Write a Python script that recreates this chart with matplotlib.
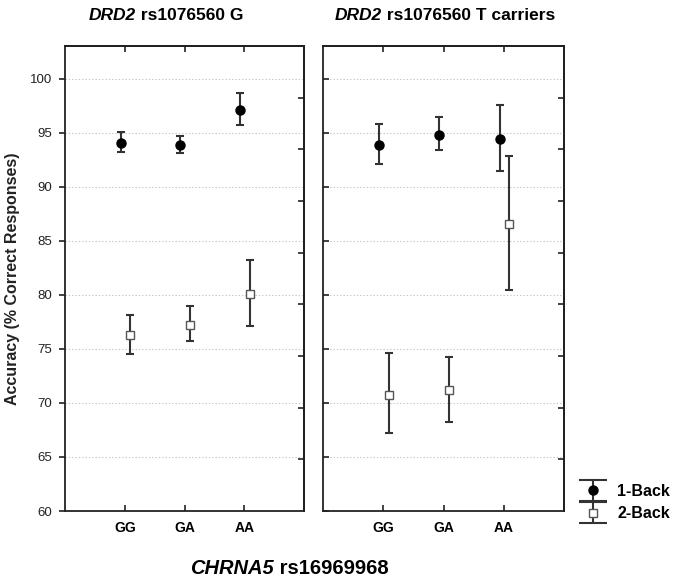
import matplotlib
matplotlib.use("Agg")
import matplotlib.pyplot as plt
from matplotlib.lines import Line2D
from matplotlib.collections import LineCollection
from matplotlib.container import ErrorbarContainer
from matplotlib.legend_handler import HandlerErrorbar

plt.rcParams['font.family'] = ['Liberation Sans', 'DejaVu Sans']

genotypes = ['GG', 'GA', 'AA']
panel_names = ['rs1076560 G', 'rs1076560 T carriers']

# left panel (G), right panel (T carriers)
one_back_mean = [[94.04, 93.86, 97.13], [93.86, 94.84, 94.44]]
one_back_hi = [[95.06, 94.72, 98.73], [95.80, 96.45, 97.60]]
one_back_lo = [[93.27, 93.12, 95.71], [92.10, 93.45, 91.50]]

two_back_mean = [[76.27, 77.20, 80.10], [70.77, 71.18, 86.57]]
two_back_hi = [[78.10, 79.00, 83.20], [74.60, 74.30, 92.87]]
two_back_lo = [[74.56, 75.70, 77.10], [67.20, 68.20, 80.44]]

y_ticks = [60, 65, 70, 75, 80, 85, 90, 95, 100]
ymin, ymax = 60, 103.05

bar_col = '#333333'
spine_col = '#222222'

fig = plt.figure(figsize=(6.75, 5.79), dpi=100)
W, H = 675, 579
boxes = [(65, 304), (323, 564)]
top_px, bot_px = 46, 511

x = [1, 2, 3]
axes = []
for i, (x0, x1) in enumerate(boxes):
    ax = fig.add_axes([x0 / W, 1 - bot_px / H, (x1 - x0) / W, (bot_px - top_px) / H])
    axes.append(ax)
    ax.set_xlim(0, 4)
    ax.set_ylim(ymin, ymax)

    for mean, lo, hi, off, mk, fc, ms in [
        (one_back_mean[i], one_back_lo[i], one_back_hi[i], -0.07, 'o', 'black', 6.5),
        (two_back_mean[i], two_back_lo[i], two_back_hi[i], 0.09, 's', 'white', 5.5),
    ]:
        xs = [v + off for v in x]
        err = [[m - l for m, l in zip(mean, lo)], [h - m for m, h in zip(mean, hi)]]
        ax.errorbar(xs, mean, yerr=err, fmt='none', ecolor=bar_col, elinewidth=1.5,
                    capsize=2.6, capthick=1.5, zorder=3)
        ax.plot(xs, mean, linestyle='none', marker=mk, markersize=ms,
                markerfacecolor=fc, markeredgecolor='#555555' if fc == 'white' else 'black',
                markeredgewidth=1.0, zorder=4)

    ax.set_yticks(y_ticks)
    ax.set_xticks(x)
    ax.set_xticklabels(genotypes, fontsize=10, fontweight='bold')
    ax.grid(axis='y', linestyle=(0, (1.2, 1.8)), color='#c4c4c4', linewidth=0.8)
    ax.set_axisbelow(True)
    for s in ax.spines.values():
        s.set_linewidth(1.3)
        s.set_color(spine_col)
    ax.tick_params(axis='x', direction='in', length=4, width=1.2, pad=7, color=spine_col)
    if i == 0:
        ax.tick_params(axis='y', direction='out', length=4, width=1.2, pad=5,
                       labelsize=9.5, color=spine_col, labelcolor='#222222')
    else:
        ax.tick_params(axis='y', direction='in', length=4, width=1.2,
                       labelleft=False, color=spine_col)

    # inner ticks on the top and right frame
    sec_x = ax.secondary_xaxis('top')
    sec_x.set_xticks(x)
    sec_x.tick_params(direction='in', length=4, width=1.2, labeltop=False, color=spine_col)
    sec_x.spines['top'].set_linewidth(1.3)

    sec_y = ax.secondary_yaxis('right', functions=(
        lambda y: (y - ymin) / (ymax - ymin) * 9,
        lambda t: ymin + t * (ymax - ymin) / 9))
    sec_y.set_yticks(range(1, 9))
    sec_y.tick_params(direction='in', length=4, width=1.2, labelright=False, color=spine_col)
    sec_y.spines['right'].set_linewidth(1.3)


def handle(marker, face, edge, ms):
    line = Line2D([], [], linestyle='none', marker=marker, markersize=ms,
                  markerfacecolor=face, markeredgecolor=edge, markeredgewidth=1.0)
    cap = Line2D([], [], linestyle='none', marker='_', markersize=20,
                 markeredgewidth=1.5, color=bar_col)
    bars = LineCollection([], colors=bar_col, linewidths=1.5)
    return ErrorbarContainer((line, (cap, cap), (bars,)), has_xerr=False, has_yerr=True)


h1 = handle('o', 'black', 'black', 6.5)
h2 = handle('s', 'white', '#555555', 5.5)
fig.legend([h1, h2], ['1-Back', '2-Back'], loc='upper left',
           bbox_to_anchor=(579 / W, 1 - 484 / H), frameon=False,
           borderpad=0, borderaxespad=0, handlelength=1.8, handletextpad=0.6,
           labelspacing=0.45, numpoints=1,
           prop={'size': 11.5, 'weight': 'bold'},
           handler_map={ErrorbarContainer: HandlerErrorbar(yerr_size=0.65)})

# panel titles: italic gene name followed by upright text
title_pos = [(89, 15), (335, 15)]
for (tx, ty), name in zip(title_pos, panel_names):
    t1 = fig.text(tx / W, 1 - ty / H, 'DRD2', fontsize=12.5, fontweight='bold',
                  fontstyle='italic', ha='left', va='center')
    axes[0].annotate(' ' + name, xy=(1, 0), xycoords=t1, xytext=(0, 0),
                     textcoords='offset points', fontsize=12.5, fontweight='bold',
                     ha='left', va='bottom', annotation_clip=False)

# x label
t = fig.text(190 / W, 1 - 568 / H, 'CHRNA5', fontsize=14.5, fontweight='bold',
             fontstyle='italic', ha='left', va='center')
axes[0].annotate(' rs16969968', xy=(1, 0), xycoords=t, xytext=(0, 0),
                 textcoords='offset points', fontsize=14.5, fontweight='bold',
                 ha='left', va='bottom', annotation_clip=False)

# y label
fig.text(12.5 / W, 1 - 279 / H, 'Accuracy (% Correct Responses)', fontsize=11.5,
         fontweight='bold', rotation=90, ha='center', va='center', color='#222222')

fig.savefig('out.png', dpi=100)
